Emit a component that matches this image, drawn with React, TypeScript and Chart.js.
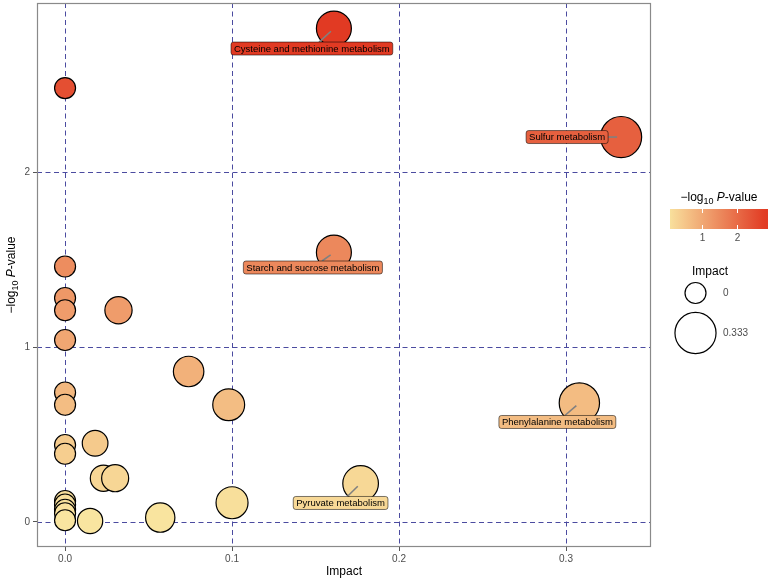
import React, { useEffect, useRef } from "react";
import { Chart, registerables } from "chart.js";

Chart.register(...registerables);

// ---------- data ----------
const impact = [
  0.161, 0, 0.333, 0.161, 0, 0, 0.032, 0, 0, 0.074, 0, 0.308, 0, 0.098,
  0.018, 0, 0, 0.023, 0.030, 0.177, 0, 0.100, 0, 0, 0, 0.057, 0, 0.015,
];
const negLogP = [
  2.82, 2.48, 2.2, 1.54, 1.46, 1.28, 1.21, 1.21, 1.04, 0.86, 0.74, 0.68, 0.67, 0.67,
  0.45, 0.44, 0.39, 0.25, 0.25, 0.22, 0.12, 0.11, 0.1, 0.07, 0.05, 0.025, 0.01, 0.006,
];
const pathway = [
  "Cysteine and methionine metabolism", "", "Sulfur metabolism", "Starch and sucrose metabolism",
  "", "", "", "", "", "", "", "Phenylalanine metabolism", "", "",
  "", "", "", "", "", "Pyruvate metabolism", "", "", "", "", "", "", "", "",
];
const xTicks = [0, 0.1, 0.2, 0.3];
const yTicks = [0, 1, 2];
const colourLegendTicks = [1, 2];
const sizeLegendBreaks = [0, 0.333];

// ---------- layout / style ----------
const FONT = '"Liberation Sans", Arial, Helvetica, sans-serif';
const X_MIN = -0.0168, X_MAX = 0.3509;
const Y_MIN = -0.143, Y_MAX = 2.966;
const GRID_COLOR = "#4b4ba0";
const BORDER_COLOR = "#8a8a8a";
const TICK_TEXT = "#4d4d4d";
const LOW = [249, 229, 160];
const HIGH = [225, 58, 35];
const LABEL_OFFSET: Record<string, [number, number]> = {
  "Cysteine and methionine metabolism": [-22, 20],
  "Sulfur metabolism": [-54, 0],
  "Starch and sucrose metabolism": [-21, 15],
  "Phenylalanine metabolism": [-22, 19],
  "Pyruvate metabolism": [-20, 19.5],
};
const LEG_BAR = { x: 670, y: 209, w: 98, h: 20, lo: 0.09, hi: 2.89 };

const cMin = Math.min(...negLogP);
const cMax = Math.max(...negLogP);

function colorFor(v: number) {
  let t = (v - cMin) / (cMax - cMin);
  t = Math.max(0, Math.min(1, t));
  const c = LOW.map((l, i) => Math.round(l + (HIGH[i] - l) * t));
  return `rgb(${c[0]},${c[1]},${c[2]})`;
}
function radiusFor(imp: number) {
  return 10.5 + 17.4 * Math.sqrt(Math.max(0, imp));
}

function drawLogPTitle(ctx: CanvasRenderingContext2D, x: number, y: number, size: number) {
  const parts = [
    { t: "\u2212log", f: `${size}px ${FONT}`, dy: 0 },
    { t: "10", f: `${size * 0.75}px ${FONT}`, dy: size * 0.3 },
    { t: " ", f: `${size}px ${FONT}`, dy: 0 },
    { t: "P", f: `italic ${size}px ${FONT}`, dy: 0 },
    { t: "-value", f: `${size}px ${FONT}`, dy: 0 },
  ];
  let total = 0;
  const widths = parts.map((p) => {
    ctx.font = p.f;
    const w = ctx.measureText(p.t).width;
    total += w;
    return w;
  });
  let cx = x - total / 2;
  ctx.textAlign = "left";
  ctx.textBaseline = "middle";
  parts.forEach((p, i) => {
    ctx.font = p.f;
    ctx.fillText(p.t, cx, y + p.dy);
    cx += widths[i];
  });
}

const decorPlugin = {
  id: "decor",
  beforeDatasetsDraw(chart: any) {
    const { ctx, chartArea: a, scales } = chart;
    ctx.save();
    ctx.strokeStyle = GRID_COLOR;
    ctx.lineWidth = 1;
    ctx.setLineDash([5, 3.5]);
    xTicks.forEach((v) => {
      const px = Math.round(scales.x.getPixelForValue(v)) + 0.5;
      ctx.beginPath();
      ctx.moveTo(px, a.top);
      ctx.lineTo(px, a.bottom);
      ctx.stroke();
    });
    yTicks.forEach((v) => {
      const py = Math.round(scales.y.getPixelForValue(v)) + 0.5;
      ctx.beginPath();
      ctx.moveTo(a.left, py);
      ctx.lineTo(a.right, py);
      ctx.stroke();
    });
    ctx.setLineDash([]);
    ctx.strokeStyle = BORDER_COLOR;
    ctx.lineWidth = 1.2;
    ctx.strokeRect(a.left + 0.5, a.top + 0.5, a.right - a.left - 1, a.bottom - a.top - 1);
    ctx.restore();
  },
  afterDatasetsDraw(chart: any) {
    const { ctx, chartArea: a } = chart;
    const meta = chart.getDatasetMeta(0);
    ctx.save();
    // labels
    pathway.forEach((name, i) => {
      if (!name) return;
      const el = meta.data[i];
      const px = el.x, py = el.y;
      const off = LABEL_OFFSET[name] || [0, 0];
      ctx.font = `9.5px ${FONT}`;
      const tw = ctx.measureText(name).width;
      const w = tw + 6, h = 13;
      const cx = px + off[0], cy = py + off[1];
      const dx = px - cx, dy = py - cy;
      const len = Math.hypot(dx, dy);
      const ts = Math.min(
        dx !== 0 ? w / 2 / Math.abs(dx) : Infinity,
        dy !== 0 ? h / 2 / Math.abs(dy) : Infinity
      );
      if (ts < 1 && len > 0) {
        ctx.strokeStyle = "#808080";
        ctx.lineWidth = 1.6;
        ctx.beginPath();
        ctx.moveTo(cx + dx * ts, cy + dy * ts);
        ctx.lineTo(px - (dx / len) * 4, py - (dy / len) * 4);
        ctx.stroke();
      }
      ctx.beginPath();
      (ctx as any).roundRect(cx - w / 2, cy - h / 2, w, h, 2.5);
      ctx.fillStyle = colorFor(negLogP[i]);
      ctx.fill();
      ctx.strokeStyle = "rgba(0,0,0,0.75)";
      ctx.lineWidth = 0.7;
      ctx.stroke();
      ctx.fillStyle = "#000";
      ctx.textAlign = "center";
      ctx.textBaseline = "middle";
      ctx.fillText(name, cx, cy + 0.5);
    });

    // axis titles
    ctx.fillStyle = "#000";
    ctx.font = `12px ${FONT}`;
    ctx.textAlign = "center";
    ctx.textBaseline = "middle";
    ctx.fillText("Impact", (a.left + a.right) / 2, 572);
    ctx.save();
    ctx.translate(12, (a.top + a.bottom) / 2);
    ctx.rotate(-Math.PI / 2);
    drawLogPTitle(ctx, 0, 0, 12);
    ctx.restore();

    // colour legend
    const b = LEG_BAR;
    ctx.fillStyle = "#000";
    drawLogPTitle(ctx, b.x + b.w / 2, 198, 12);
    const grad = ctx.createLinearGradient(b.x, 0, b.x + b.w, 0);
    for (let k = 0; k <= 20; k++) {
      const f = k / 20;
      grad.addColorStop(f, colorFor(b.lo + (b.hi - b.lo) * f));
    }
    ctx.fillStyle = grad;
    ctx.fillRect(b.x, b.y, b.w, b.h);
    ctx.strokeStyle = "#fff";
    ctx.lineWidth = 1;
    ctx.font = `10px ${FONT}`;
    colourLegendTicks.forEach((v) => {
      const tx = Math.round(b.x + ((v - b.lo) / (b.hi - b.lo)) * b.w) + 0.5;
      ctx.beginPath();
      ctx.moveTo(tx, b.y);
      ctx.lineTo(tx, b.y + 4);
      ctx.moveTo(tx, b.y + b.h - 4);
      ctx.lineTo(tx, b.y + b.h);
      ctx.stroke();
      ctx.fillStyle = TICK_TEXT;
      ctx.textAlign = "center";
      ctx.textBaseline = "middle";
      ctx.fillText(String(v), tx, 238);
    });

    // size legend
    ctx.fillStyle = "#000";
    ctx.font = `12px ${FONT}`;
    ctx.textAlign = "left";
    ctx.textBaseline = "middle";
    ctx.fillText("Impact", 692, 272);
    const keyY = [293, 333];
    sizeLegendBreaks.forEach((v, i) => {
      ctx.beginPath();
      ctx.arc(695.5, keyY[i], radiusFor(v), 0, Math.PI * 2);
      ctx.fillStyle = "#fff";
      ctx.fill();
      ctx.strokeStyle = "#000";
      ctx.lineWidth = 1.2;
      ctx.stroke();
      ctx.fillStyle = TICK_TEXT;
      ctx.font = `10px ${FONT}`;
      ctx.textAlign = "left";
      ctx.fillText(String(v), 723, keyY[i]);
    });
    ctx.restore();
  },
};

export default function App() {
  const ref = useRef<HTMLCanvasElement | null>(null);
  useEffect(() => {
    if (!ref.current) return;
    const chart = new Chart(ref.current, {
      type: "scatter",
      data: {
        datasets: [
          {
            data: impact.map((x, i) => ({ x, y: negLogP[i] })),
            pointRadius: (c: any) => radiusFor(c.raw ? c.raw.x : 0),
            pointHoverRadius: (c: any) => radiusFor(c.raw ? c.raw.x : 0),
            pointBackgroundColor: (c: any) => colorFor(c.raw ? c.raw.y : 0),
            pointBorderColor: "#000",
            pointBorderWidth: 1.2,
            clip: false,
          } as any,
        ],
      },
      options: {
        responsive: false,
        animation: false,
        devicePixelRatio: 1,
        events: [],
        layout: { autoPadding: false, padding: { left: 0, top: 3, right: 122, bottom: 0 } },
        plugins: { legend: { display: false }, tooltip: { enabled: false } },
        scales: {
          x: {
            type: "linear",
            min: X_MIN,
            max: X_MAX,
            afterBuildTicks: (s: any) => {
              s.ticks = xTicks.map((v) => ({ value: v }));
            },
            afterFit: (s: any) => {
              s.height = 35;
              s.paddingLeft = 0;
              s.paddingRight = 0;
            },
            ticks: {
              callback: (v: any) => Number(v).toFixed(1),
              font: { size: 10, family: FONT },
              color: TICK_TEXT,
              padding: 2,
              maxRotation: 0,
              autoSkip: false,
            },
            grid: { drawOnChartArea: false, drawTicks: true, tickLength: 4, tickColor: "#555", tickWidth: 1 },
            border: { display: false },
          },
          y: {
            type: "linear",
            min: Y_MIN,
            max: Y_MAX,
            afterBuildTicks: (s: any) => {
              s.ticks = yTicks.map((v) => ({ value: v }));
            },
            afterFit: (s: any) => {
              s.width = 37;
              s.paddingTop = 0;
              s.paddingBottom = 0;
            },
            ticks: {
              callback: (v: any) => String(v),
              font: { size: 10, family: FONT },
              color: TICK_TEXT,
              padding: 3,
              autoSkip: false,
            },
            grid: { drawOnChartArea: false, drawTicks: true, tickLength: 4, tickColor: "#555", tickWidth: 1 },
            border: { display: false },
          },
        },
      } as any,
      plugins: [decorPlugin],
    });
    return () => chart.destroy();
  }, []);
  return (
    <div style={{ position: "fixed", left: 0, top: 0, width: 773, height: 582, background: "#fff" }}>
      <canvas ref={ref} width={773} height={582} style={{ display: "block" }} />
    </div>
  );
}
